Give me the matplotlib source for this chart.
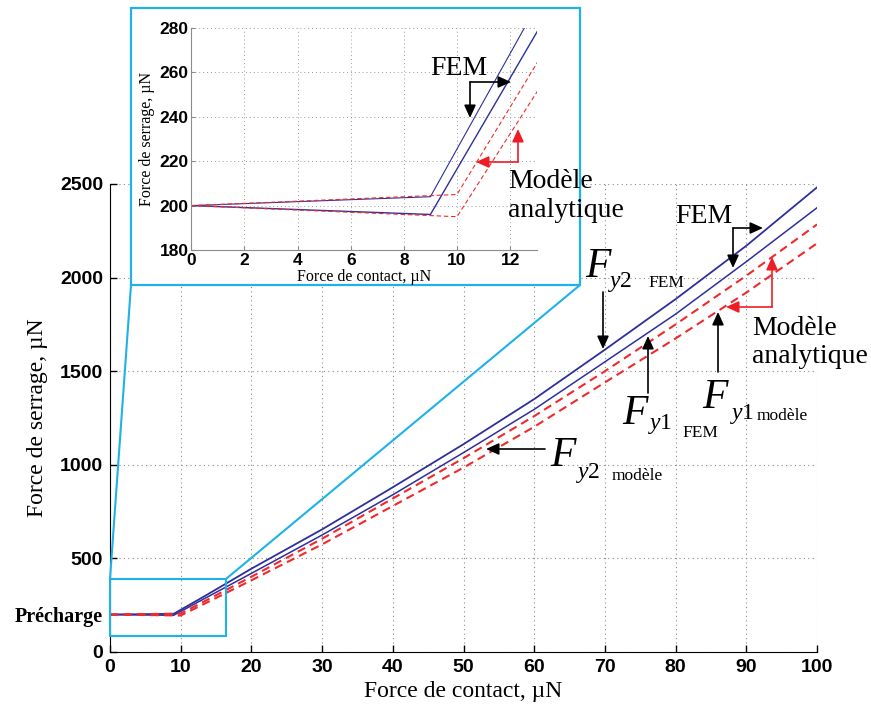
import matplotlib
matplotlib.use("Agg")
import matplotlib.pyplot as plt
from matplotlib.patches import FancyArrowPatch, Rectangle, ConnectionPatch

# ---------------- data ----------------
x_fem = [0, 9, 13, 20, 30, 40, 50, 60, 70, 80, 90, 100]
fy2_fem = [200, 204, 290, 445, 655, 880, 1110, 1351, 1615, 1885, 2170, 2482]
fy1_fem = [200, 196, 278, 420, 625, 840, 1065, 1296, 1550, 1805, 2085, 2373]
x_mod = [0, 10, 13, 20, 30, 40, 50, 60, 70, 80, 90, 100]
fy2_mod = [200, 205, 264, 402, 605, 820, 1035, 1260, 1500, 1750, 2010, 2284]
fy1_mod = [200, 195, 251, 383, 575, 780, 985, 1203, 1440, 1675, 1920, 2183]

main_xticks = [0, 10, 20, 30, 40, 50, 60, 70, 80, 90, 100]
main_yticks = [0, 200, 500, 1000, 1500, 2000, 2500]
main_yticklabels = ["0", "Précharge", "500", "1000", "1500", "2000", "2500"]
inset_xticks = [0, 2, 4, 6, 8, 10, 12]
inset_yticks = [180, 200, 220, 240, 260, 280]
zoom_box_x = [0, 16.4]
zoom_box_y = [87, 390]

xlabel = "Force de contact, µN"
ylabel = "Force de serrage, µN"

# ---------------- style ----------------
W, H = 871, 708
BLUE = "#2f2f9c"
RED = "#f02a2a"
CYAN = "#1eb2e6"
SERIF = ["Liberation Serif", "DejaVu Serif"]
NARROW = ["Liberation Sans Narrow", "Liberation Sans", "DejaVu Sans"]


def P(x, y):
    return (x / W, 1 - y / H)


fig = plt.figure(figsize=(W / 100, H / 100), dpi=100)
fig.patch.set_facecolor("white")

# ---------------- main axes ----------------
ax = fig.add_axes([110 / W, 1 - 652 / H, 707 / W, 468 / H])
ax.plot(x_fem, fy2_fem, color=BLUE, lw=1.3)
ax.plot(x_fem, fy1_fem, color=BLUE, lw=1.1)
ax.plot(x_mod, fy2_mod, color=RED, lw=1.5, dashes=(4, 2.5))
ax.plot(x_mod, fy1_mod, color=RED, lw=1.5, dashes=(4, 2.5))
ax.set_xlim(0, 100)
ax.set_ylim(0, 2500)
ax.set_xticks(main_xticks)
ax.set_yticks(main_yticks)
ax.set_yticklabels(main_yticklabels)
ax.grid(True, ls=(0, (1, 3)), color="#8a8a8a", lw=0.8)
for s in ("top", "right"):
    ax.spines[s].set_visible(False)
ax.tick_params(direction="in", length=5, width=1, pad=5)
for lab in ax.get_xticklabels() + ax.get_yticklabels():
    lab.set_fontfamily(NARROW)
    lab.set_fontweight("bold")
    lab.set_fontsize(14)
pre = ax.get_yticklabels()[1]
pre.set_fontfamily(SERIF)
pre.set_fontsize(14.5)
t200 = ax.yaxis.get_major_ticks()[1]
t200.gridline.set_visible(False)
t200.tick1line.set_visible(False)
ax.set_xlabel(xlabel, fontfamily=SERIF, fontsize=17, labelpad=4)
ax.set_ylabel(ylabel, fontfamily=SERIF, fontsize=17)
ax.yaxis.set_label_coords((48 - 110) / 707, 0.5)

# zoom rectangle on main
ax.add_patch(Rectangle((zoom_box_x[0], zoom_box_y[0]), zoom_box_x[1] - zoom_box_x[0],
                       zoom_box_y[1] - zoom_box_y[0], fill=False, edgecolor=CYAN,
                       lw=1.5, clip_on=False, zorder=5))

# inset frame (white, cyan edge)
frame = Rectangle(P(131, 285), (580 - 131) / W, (285 - 8) / H, transform=fig.transFigure,
                  facecolor="white", edgecolor=CYAN, lw=1.6, zorder=1)
fig.patches.append(frame)
for (xd, yd), (xp, yp) in [((zoom_box_x[0], zoom_box_y[1]), (131, 285)),
                           ((zoom_box_x[1], zoom_box_y[1]), (580, 285))]:
    cp = ConnectionPatch(xyA=(xd, yd), coordsA=ax.transData, xyB=P(xp, yp),
                         coordsB=fig.transFigure, color=CYAN, lw=1.5, zorder=1)
    fig.add_artist(cp)

# ---------------- inset axes ----------------
ia = fig.add_axes([191.3 / W, 1 - 250 / H, 345.4 / W, 222 / H], zorder=2)
ia.plot(x_fem, fy2_fem, color=BLUE, lw=0.8)
ia.plot(x_fem, fy1_fem, color=BLUE, lw=1.0)
ia.plot(x_mod, fy2_mod, color=RED, lw=0.8, dashes=(4, 2.5))
ia.plot(x_mod, fy1_mod, color=RED, lw=0.8, dashes=(4, 2.5))
ia.set_xlim(0, 13)
ia.set_ylim(180, 280)
ia.set_xticks(inset_xticks)
ia.set_yticks(inset_yticks)
ia.grid(True, ls=(0, (1, 3)), color="#9a9a9a", lw=0.7)
for s in ("top", "right"):
    ia.spines[s].set_visible(False)
for s in ("left", "bottom"):
    ia.spines[s].set_color("#8c8c8c")
ia.tick_params(direction="in", length=3, width=0.8, color="#8c8c8c", pad=2)
for lab in ia.get_xticklabels() + ia.get_yticklabels():
    lab.set_fontfamily(NARROW)
    lab.set_fontweight("bold")
    lab.set_fontsize(12.5)
ia.set_xlabel(xlabel, fontfamily=SERIF, fontsize=11.5, labelpad=1)
ia.set_ylabel(ylabel, fontfamily=SERIF, fontsize=11.5, labelpad=3)

# ---------------- annotations ----------------
def txt(x, y, s, size, style="normal", color="black"):
    fig.text(*P(x, y), s, fontsize=size, fontfamily=SERIF, fontstyle=style,
             color=color, ha="left", va="baseline", zorder=6)


def arrow(x0, y0, x1, y1, color="black"):
    a = FancyArrowPatch(P(x0, y0), P(x1, y1), transform=fig.transFigure,
                        arrowstyle="-|>,head_length=0.55,head_width=0.25",
                        mutation_scale=14, color=color, lw=1.2,
                        shrinkA=0, shrinkB=0, zorder=6)
    fig.patches.append(a)


def bracket(cx, cy, p1, p2, color="black"):
    arrow(cx, cy, *p1, color=color)
    arrow(cx, cy, *p2, color=color)


# main labels
txt(675, 223, "FEM", 20)
bracket(733, 228, (763, 228), (733, 268))
txt(752, 335, "Modèle", 20)
txt(752, 363, "analytique", 20)
bracket(772, 307, (726, 307), (772, 257), color="#ee1c24")

# inset labels
txt(430, 75, "FEM", 20)
bracket(470, 82, (511, 82), (470, 118))
txt(508, 188, "Modèle", 20)
txt(508, 217, "analytique", 20)
bracket(518, 162, (476, 162), (518, 129), color="#ee1c24")

# subscripted force labels
def flabel(fx, fy, idx, ix, iy, sub, sx, sy):
    txt(fx, fy, "F", 30, style="italic")
    txt(ix, iy, "y", 17, style="italic")
    txt(ix + 10, iy, idx, 17)
    txt(sx, sy, sub, 12.5)


flabel(585, 277, "2", 610, 287, "FEM", 648, 287)
arrow(603, 292, 603, 349)
flabel(622, 424, "1", 650, 429, "FEM", 682, 437)
arrow(648, 393, 648, 336)
flabel(702, 408, "1", 732, 419, "modèle", 757, 420)
arrow(718, 372, 718, 312)
flabel(550, 466, "2", 578, 478, "modèle", 612, 480)
arrow(545, 449, 486, 449)

fig.savefig("out.png", dpi=100, facecolor="white")
